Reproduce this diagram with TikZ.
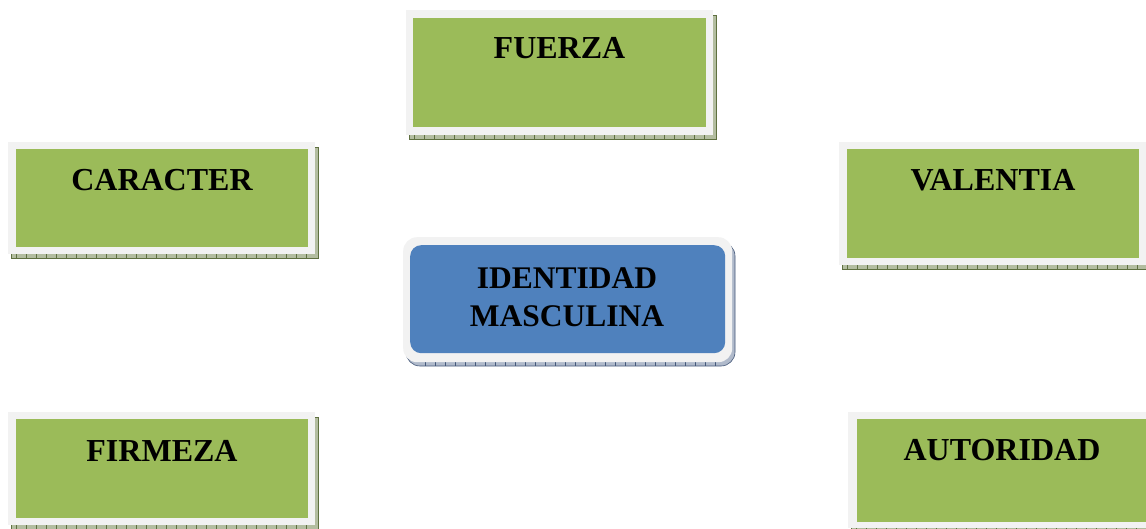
\documentclass[tikz,border=0pt]{standalone}
\usepackage{fontspec}
\setmainfont{Liberation Serif}
\definecolor{frameg}{HTML}{F2F2F2}
\definecolor{boxgreen}{HTML}{9BBB59}
\definecolor{boxblue}{HTML}{4F81BD}
\definecolor{shadeg}{HTML}{B3BDA0}
\definecolor{shadegd}{HTML}{5F7040}
\definecolor{shadeb}{HTML}{B0BACB}
\definecolor{shadebd}{HTML}{45597A}
% #1 x1, #2 y1, #3 x2, #4 y2 (outer frame), #5 fill, #6 line, #7 corner radius
\newcommand\boxshade[7]{%
  \filldraw[fill=#5, draw=#6, line width=0.6pt, rounded corners=#7]
    (#1+3,#2+5) rectangle (#3+3,#4+4);
  \foreach \t in {0,10,...,400}{%
    \pgfmathtruncatemacro\shok{(#1+8+#7+\t<#3-#7)?1:0}%
    \ifnum\shok=1 \draw[#6, line width=0.5pt] (#1+8+#7+\t,#4) -- (#1+8+#7+\t,#4+4);\fi
  }
  \foreach \t in {0,10,...,200}{%
    \pgfmathtruncatemacro\shok{(#2+10+#7+\t<#4-#7)?1:0}%
    \ifnum\shok=1 \draw[#6, line width=0.5pt] (#3,#2+10+#7+\t) -- (#3+3,#2+10+#7+\t);\fi
  }
}
\begin{document}
\begin{tikzpicture}[x=1pt,y=-1pt,
  frame/.style={fill=frameg, draw=none, inner sep=0pt, anchor=north west},
  gbox/.style={fill=boxgreen, draw=none, inner sep=0pt, anchor=north west},
  bbox/.style={fill=boxblue, draw=none, inner sep=0pt, anchor=north west, rounded corners=11pt},
  lbl/.style={font=\fontsize{32}{36}\selectfont\bfseries, anchor=base, inner sep=0pt}]
\useasboundingbox[fill=white] (0,0) rectangle (1146,529);

% FUERZA
\boxshade{406}{10}{713}{135}{shadeg}{shadegd}{0pt}
\node[frame, minimum width=307pt, minimum height=125pt] (fuerzaF) at (406,10) {};
\node[gbox, minimum width=293pt, minimum height=109pt] (fuerza) at (413,18) {};
\node[lbl] (fuerzaT) at (559.5,59) {FUERZA};

% CARACTER
\boxshade{8}{142}{315}{254}{shadeg}{shadegd}{0pt}
\node[frame, minimum width=307pt, minimum height=112pt] (caracterF) at (8,142) {};
\node[gbox, minimum width=292pt, minimum height=98pt] (caracter) at (16,149) {};
\node[lbl] (caracterT) at (162,191) {CARACTER};

% VALENTIA
\boxshade{839}{142}{1150}{265}{shadeg}{shadegd}{0pt}
\node[frame, minimum width=311pt, minimum height=123pt] (valentiaF) at (839,142) {};
\node[gbox, minimum width=292pt, minimum height=109pt] (valentia) at (847,149) {};
\node[lbl] (valentiaT) at (993,191) {VALENTIA};

% FIRMEZA
\boxshade{8}{412}{315}{525}{shadeg}{shadegd}{0pt}
\node[frame, minimum width=307pt, minimum height=113pt] (firmezaF) at (8,412) {};
\node[gbox, minimum width=292pt, minimum height=99pt] (firmeza) at (16,419) {};
\node[lbl] (firmezaT) at (162,461) {FIRMEZA};

% AUTORIDAD
\boxshade{848}{412}{1155}{528}{shadeg}{shadegd}{0pt}
\node[frame, minimum width=307pt, minimum height=116pt] (autoridadF) at (848,412) {};
\node[gbox, minimum width=292pt, minimum height=103pt] (autoridad) at (857,419) {};
\node[lbl] (autoridadT) at (1002,460) {AUTORIDAD};

% IDENTIDAD MASCULINA
\boxshade{403}{237}{732}{362}{shadeb}{shadebd}{14pt}
\node[frame, rounded corners=14pt, minimum width=329pt, minimum height=125pt] (identF) at (403,237) {};
\node[bbox, minimum width=315pt, minimum height=108pt] (ident) at (410,245) {};
\node[inner sep=0pt, anchor=center, align=center,
      font=\fontsize{31.5}{37.5}\selectfont\bfseries] (identT) at (567,297.2)
  {IDENTIDAD\\MASCULINA};
\end{tikzpicture}
\end{document}
